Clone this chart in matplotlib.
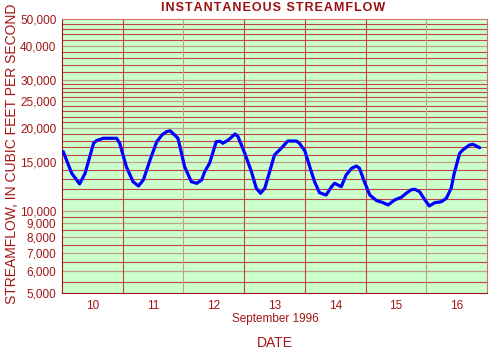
import matplotlib
matplotlib.use("Agg")
import matplotlib.pyplot as plt
import matplotlib.ticker as mticker

# time in days of September 1996, flow in cubic feet per second
days = [10.02, 10.16, 10.29, 10.38, 10.52, 10.57, 10.68, 10.90, 10.95, 11.06,
        11.17, 11.26, 11.34, 11.45, 11.56, 11.65, 11.72, 11.78, 11.91, 12.02,
        12.13, 12.22, 12.30, 12.35, 12.43, 12.54, 12.60, 12.65, 12.74, 12.85,
        12.90, 13.01, 13.12, 13.20, 13.27, 13.34, 13.42, 13.50, 13.61, 13.72,
        13.86, 13.91, 14.00, 14.08, 14.16, 14.24, 14.35, 14.44, 14.49, 14.60,
        14.68, 14.77, 14.85, 14.90, 14.98, 15.07, 15.18, 15.29, 15.37, 15.48,
        15.59, 15.67, 15.75, 15.81, 15.89, 15.97, 16.05, 16.14, 16.25, 16.33,
        16.41, 16.46, 16.55, 16.60, 16.71, 16.77, 16.88]
flow = [16400, 13670, 12500, 13670, 17600, 18000, 18350, 18350, 17600, 14450,
        12740, 12290, 12930, 15290, 17830, 18900, 19390, 19560, 18350, 14450,
        12740, 12570, 12930, 13860, 14870, 17830, 17900, 17600, 18090, 19030,
        18590, 16180, 13860, 12060, 11560, 12060, 13860, 15950, 16870, 17930,
        17930, 17600, 16500, 14450, 12740, 11620, 11390, 12220, 12570, 12220,
        13480, 14260, 14530, 14260, 12740, 11390, 10870, 10680, 10480, 10930,
        11180, 11560, 11900, 11960, 11710, 10990, 10390, 10680, 10770, 11080,
        12060, 13670, 16180, 16630, 17340, 17440, 16950]

day_labels = ["10", "11", "12", "13", "14", "15", "16"]
y_labels = [5000, 6000, 7000, 8000, 9000, 10000, 15000, 20000, 25000,
            30000, 40000, 50000]

red = "#a31515"
grid_red = "#c04545"
grid_tan = "#c0a08a"

fig = plt.figure(figsize=(4.9, 3.5), dpi=100)
ax = fig.add_axes([62 / 490, 1 - 293 / 350, 425 / 490, 274 / 350])
ax.set_facecolor("#ccffcc")
ax.set_yscale("log")
ax.set_ylim(5000, 50000)
ax.set_xlim(10, 17)

# horizontal grid
minor = list(range(5500, 10000, 500)) + list(range(11000, 30000, 1000)) + \
    list(range(32000, 50000, 2000))
for v in minor:
    if v not in y_labels:
        ax.axhline(v, color=grid_red, lw=0.8, zorder=1)
for v in y_labels[1:-1]:
    ax.axhline(v, color=grid_tan, lw=0.9, zorder=1)

# vertical day lines
for d in range(11, 17):
    c = grid_tan if d in (12, 16) else grid_red
    ax.axvline(d, color=c, lw=0.8, zorder=1)

ax.plot(days, flow, color="#0000ff", lw=2.3, zorder=3,
        solid_joinstyle="round", solid_capstyle="round")

ax.yaxis.set_major_locator(mticker.FixedLocator(y_labels))
ax.yaxis.set_minor_locator(mticker.NullLocator())
ax.set_yticks(y_labels)
ax.set_yticklabels([f"{v:,}" for v in y_labels])
ax.set_xticks([d + 0.5 for d in range(10, 17)])
ax.set_xticklabels(day_labels)
ax.tick_params(length=0, colors=red, labelsize=8.5)
ax.tick_params(axis="y", pad=4)
ax.tick_params(axis="x", pad=5)
for lab in ax.get_xticklabels() + ax.get_yticklabels():
    lab.set_family("Liberation Sans")

for s in ["left", "bottom"]:
    ax.spines[s].set_color(red)
for s in ["top", "right"]:
    ax.spines[s].set_color("#d07070")

fnt = ["Liberation Sans", "DejaVu Sans"]
title = "\u200a".join("INSTANTANEOUS STREAMFLOW")
fig.text(273 / 490, 1 - 8 / 350, title, ha="center", va="center",
         color="#9a0f0f", fontsize=9, fontweight="bold", family=fnt)
fig.text(12 / 490, 1 - 154 / 350, "STREAMFLOW, IN CUBIC FEET PER SECOND",
         rotation=90, ha="center", va="center", color=red, fontsize=10,
         family=fnt)
fig.text(275 / 490, 1 - 319 / 350, "September 1996", ha="center",
         va="center", color=red, fontsize=8.5, family=fnt)
fig.text(275 / 490, 1 - 343 / 350, "DATE", ha="center", va="center",
         color=red, fontsize=10, family=fnt)

fig.savefig("out.png", dpi=100)
